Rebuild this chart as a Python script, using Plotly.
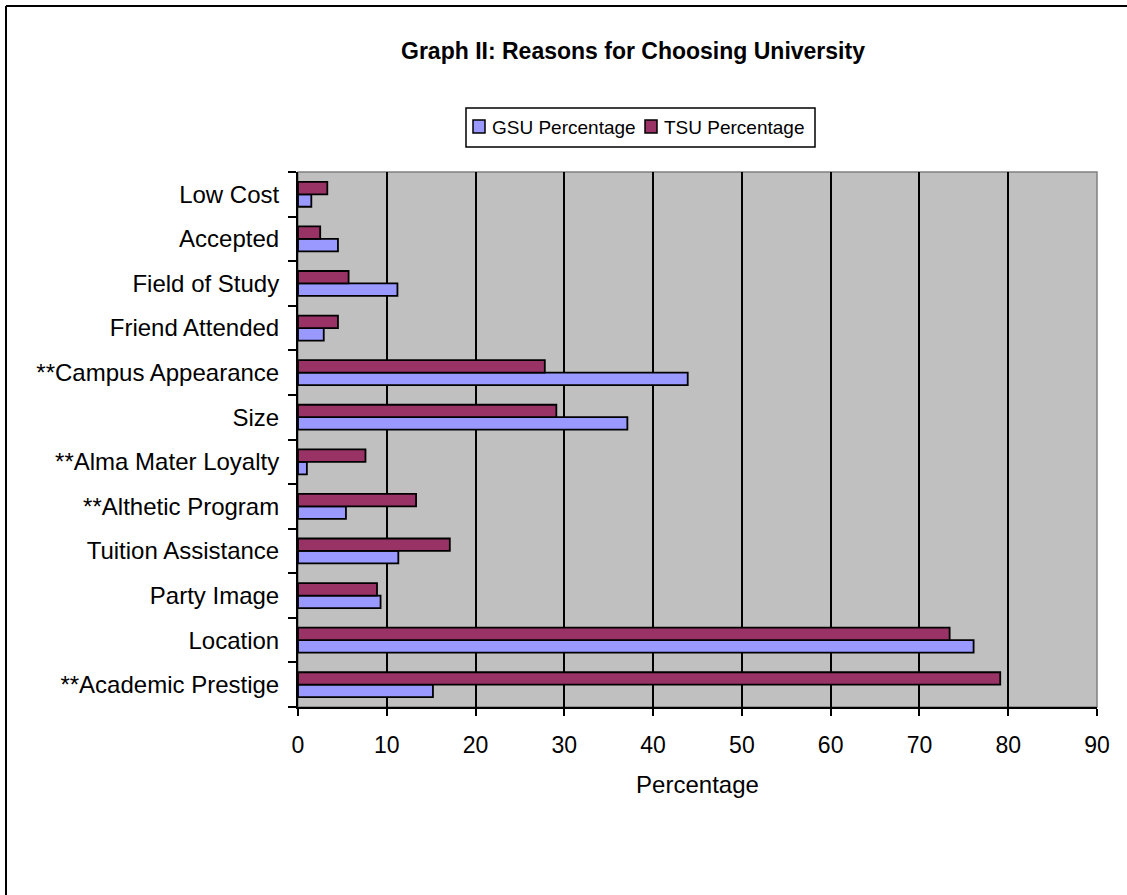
import plotly.graph_objects as go

# Reasons listed bottom-to-top as they appear on the category axis
reasons = [
    "**Academic Prestige",
    "Location",
    "Party Image",
    "Tuition Assistance",
    "**Althetic Program",
    "**Alma Mater Loyalty",
    "Size",
    "**Campus Appearance",
    "Friend Attended",
    "Field of Study",
    "Accepted",
    "Low Cost",
]
gsu_pct = [15.2, 76.1, 9.3, 11.3, 5.4, 1.0, 37.1, 43.9, 2.9, 11.2, 4.5, 1.5]
tsu_pct = [79.1, 73.4, 8.9, 17.1, 13.3, 7.6, 29.1, 27.8, 4.5, 5.7, 2.5, 3.3]
x_ticks = [0, 10, 20, 30, 40, 50, 60, 70, 80, 90]
series_names = ["GSU Percentage", "TSU Percentage"]
series_colors = ["#9999FF", "#993366"]

W, H = 1127, 895
L, R, T, B = 298, 30, 172, 188
pw, ph = W - L - R, H - T - B
FONT = "Liberation Sans, Arial, sans-serif"

fig = go.Figure()
for name, vals, col in zip(series_names, [gsu_pct, tsu_pct], series_colors):
    fig.add_trace(go.Bar(
        y=reasons, x=vals, orientation="h", name=name,
        marker=dict(color=col, line=dict(color="black", width=1.8)),
    ))


def px_x(p):
    return (p - L) / pw


def px_y(p):
    return (H - B - p) / ph


shapes = [
    # plot frame (grey top/right edge)
    dict(type="rect", xref="paper", yref="paper", x0=0, x1=1, y0=0, y1=1,
         line=dict(color="#808080", width=1.5), layer="below"),
    # outer chart border
    dict(type="line", xref="paper", yref="paper",
         x0=px_x(6), x1=px_x(6), y0=px_y(W + 100), y1=px_y(6),
         line=dict(color="black", width=2)),
    dict(type="line", xref="paper", yref="paper",
         x0=px_x(6), x1=px_x(W + 100), y0=px_y(6), y1=px_y(6),
         line=dict(color="black", width=2)),
    # legend box
    dict(type="rect", xref="paper", yref="paper",
         x0=px_x(466), x1=px_x(815), y0=px_y(147), y1=px_y(108),
         fillcolor="white", line=dict(color="black", width=1.5)),
]
annotations = []
# legend entries: swatch + label
for (sx, tx), name, col in zip([(473, 490), (645, 662)], series_names, series_colors):
    shapes.append(dict(
        type="rect", xref="paper", yref="paper",
        x0=px_x(sx), x1=px_x(sx + 12), y0=px_y(133), y1=px_y(120),
        fillcolor=col, line=dict(color="black", width=1.5)))
    annotations.append(dict(
        text=name, xref="paper", yref="paper", x=px_x(tx), y=px_y(127.5),
        xanchor="left", yanchor="middle", showarrow=False,
        font=dict(family=FONT, size=19, color="black")))

fig.update_layout(
    width=W, height=H,
    margin=dict(l=L, r=R, t=T, b=B, autoexpand=False),
    paper_bgcolor="white",
    plot_bgcolor="#C0C0C0",
    barmode="group",
    bargap=0.44,
    bargroupgap=0,
    showlegend=False,
    font=dict(family=FONT, size=24, color="black"),
    title=dict(
        text="<b>Graph II: Reasons for Choosing University</b>",
        x=633 / W, xanchor="center", xref="container",
        y=1 - 51 / H, yanchor="middle", yref="container",
        font=dict(family=FONT, size=23, color="black"),
    ),
    shapes=shapes,
    annotations=annotations,
)

fig.update_xaxes(
    range=[0, 90], tickvals=x_ticks, ticktext=[str(v) for v in x_ticks],
    showgrid=True, gridcolor="black", gridwidth=1.5,
    showline=True, linecolor="black", linewidth=2,
    ticks="outside", ticklen=7, tickwidth=2, tickcolor="black",
    ticklabelstandoff=9,
    zeroline=False,
    tickfont=dict(family=FONT, size=23),
    title=dict(text="Percentage", standoff=20, font=dict(family=FONT, size=24)),
    fixedrange=True,
)
fig.update_yaxes(
    type="category", categoryorder="array", categoryarray=reasons,
    showgrid=False, showline=True, linecolor="black", linewidth=2,
    ticks="outside", ticklen=8, tickwidth=2, tickcolor="black",
    tickson="boundaries", ticklabelstandoff=12,
    tickfont=dict(family=FONT, size=24),
    fixedrange=True,
)

fig.write_html("out.html")
